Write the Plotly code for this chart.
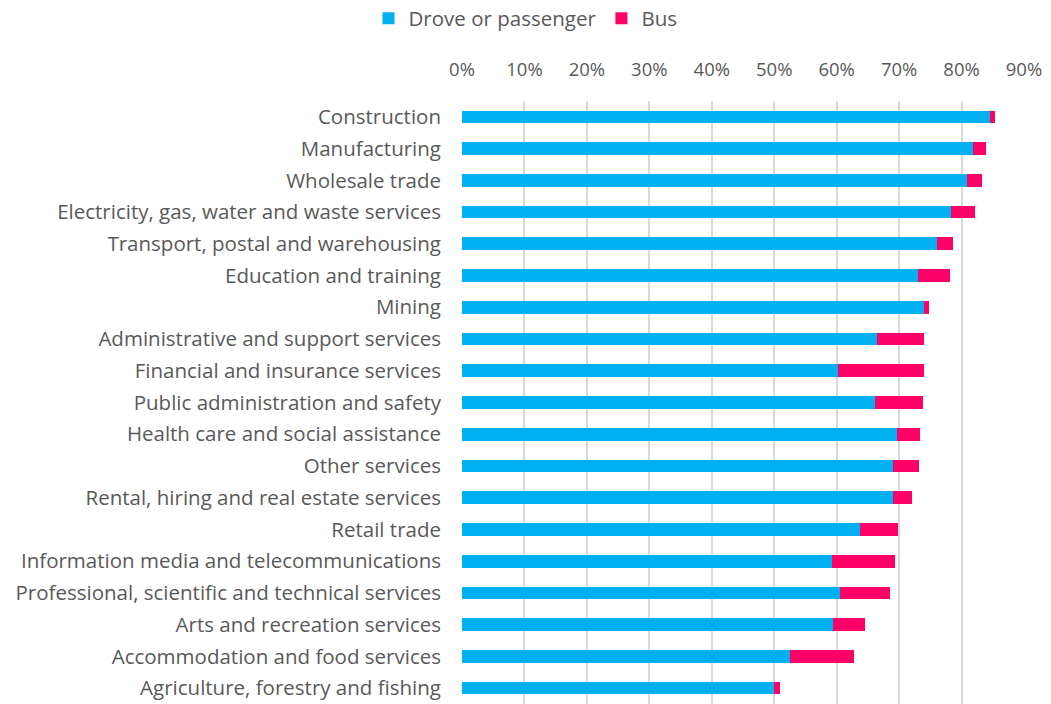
import plotly.graph_objects as go

industries = [
    "Construction",
    "Manufacturing",
    "Wholesale trade",
    "Electricity, gas, water and waste services",
    "Transport, postal and warehousing",
    "Education and training",
    "Mining",
    "Administrative and support services",
    "Financial and insurance services",
    "Public administration and safety",
    "Health care and social assistance",
    "Other services",
    "Rental, hiring and real estate services",
    "Retail trade",
    "Information media and telecommunications",
    "Professional, scientific and technical services",
    "Arts and recreation services",
    "Accommodation and food services",
    "Agriculture, forestry and fishing",
]

drove_or_passenger = [84.5, 81.9, 80.9, 78.3, 76.0, 73.1, 74.0, 66.5, 60.2, 66.1,
                      69.7, 69.1, 69.1, 63.8, 59.2, 60.6, 59.4, 52.6, 50.0]
bus = [0.8, 2.0, 2.4, 3.8, 2.6, 5.1, 0.8, 7.5, 13.8, 7.7,
       3.7, 4.1, 3.0, 6.1, 10.1, 7.9, 5.2, 10.2, 1.0]

tick_vals = [0, 10, 20, 30, 40, 50, 60, 70, 80, 90]
tick_text = [f"{v}%" for v in tick_vals]

font_family = "'Open Sans', sans-serif"
text_grey = "#595959"

fig = go.Figure()
fig.add_trace(go.Bar(
    y=industries, x=drove_or_passenger, orientation="h",
    name="Drove or passenger", marker=dict(color="#00B0F0", line=dict(width=0)),
))
fig.add_trace(go.Bar(
    y=industries, x=bus, orientation="h",
    name="Bus", marker=dict(color="#FF0066", line=dict(width=0)),
))

fig.update_layout(
    width=1051, height=704,
    barmode="stack",
    bargap=0.6,
    plot_bgcolor="white", paper_bgcolor="white",
    margin=dict(l=462, r=27, t=101, b=0),
    font=dict(family=font_family, size=20.5, color=text_grey),
    legend=dict(
        orientation="h", x=0.5, xanchor="center", xref="container",
        y=0.974, yanchor="middle", yref="container",
        font=dict(size=20.5, color=text_grey),
        itemwidth=30, traceorder="normal",
    ),
    xaxis=dict(
        side="top", range=[0, 90], tickvals=tick_vals, ticktext=tick_text,
        showgrid=True, gridcolor="#d9d9d9", gridwidth=1.8,
        zeroline=False, showline=False, ticks="",
        ticklabelstandoff=20,
        tickfont=dict(size=18.5, color=text_grey),
    ),
    yaxis=dict(
        autorange="reversed", showgrid=False, showline=False, ticks="",
        ticklabelstandoff=20,
        tickfont=dict(size=20.5, color=text_grey),
    ),
)

fig.write_html("out.html")
